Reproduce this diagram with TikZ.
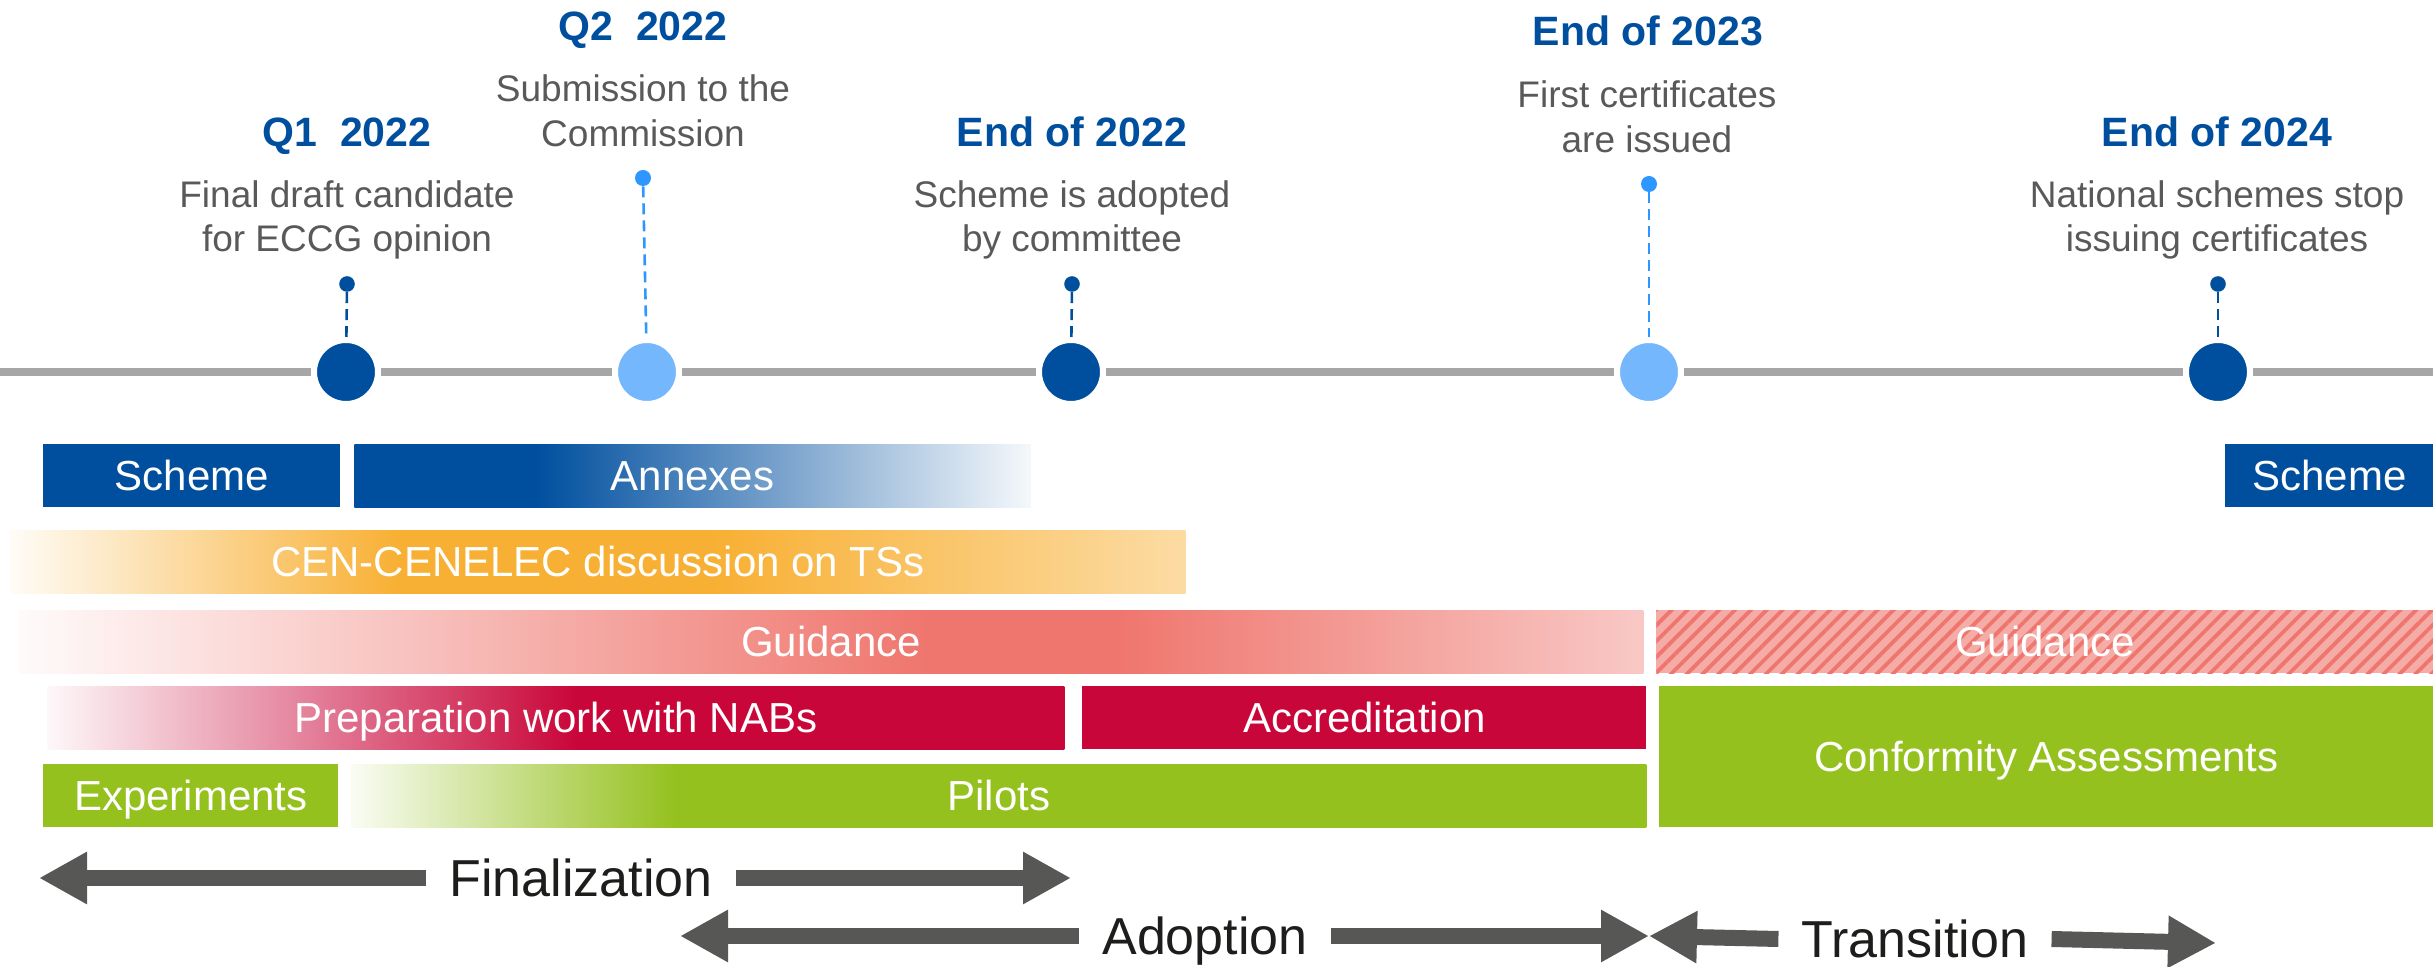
\documentclass[tikz,border=0pt]{standalone}
\usepackage{fontspec}
\setmainfont{Liberation Sans}
\usetikzlibrary{arrows.meta,patterns.meta}
\definecolor{dblue}{RGB}{0,79,159}
\definecolor{lblue}{RGB}{117,183,253}
\definecolor{lbluedot}{RGB}{45,150,255}
\definecolor{tlgray}{RGB}{166,166,166}
\definecolor{descgray}{RGB}{89,89,89}
\definecolor{orng}{RGB}{248,176,52}
\definecolor{salm}{RGB}{239,118,110}
\definecolor{crim}{RGB}{201,6,57}
\definecolor{grn}{RGB}{149,193,31}
\definecolor{arrgray}{RGB}{87,87,86}
\definecolor{arrtext}{RGB}{29,29,27}
\definecolor{hatchbase}{RGB}{245,172,167}
\colorlet{annexEnd}{dblue!4!white}
\colorlet{cenStart}{orng!4!white}
\colorlet{cenEnd}{orng!45!white}
\colorlet{guidStart}{salm!3!white}
\colorlet{guidEnd}{salm!40!white}
\colorlet{prepStart}{crim!3!white}
\colorlet{pilStart}{grn!5!white}
\pgfdeclarehorizontalshading{annexsh}{100bp}{color(0bp)=(dblue); color(25bp)=(dblue); color(38.5bp)=(dblue); color(75bp)=(annexEnd); color(100bp)=(annexEnd)}
\pgfdeclarehorizontalshading{censh}{100bp}{color(0bp)=(cenStart); color(25bp)=(cenStart); color(41.5bp)=(orng); color(55bp)=(orng); color(75bp)=(cenEnd); color(100bp)=(cenEnd)}
\pgfdeclarehorizontalshading{guidsh}{100bp}{color(0bp)=(guidStart); color(25bp)=(guidStart); color(53bp)=(salm); color(58.8bp)=(salm); color(75bp)=(guidEnd); color(100bp)=(guidEnd)}
\pgfdeclarehorizontalshading{prepsh}{100bp}{color(0bp)=(prepStart); color(25bp)=(prepStart); color(51bp)=(crim); color(75bp)=(crim); color(100bp)=(crim)}
\pgfdeclarehorizontalshading{pilsh}{100bp}{color(0bp)=(pilStart); color(25bp)=(pilStart); color(37.5bp)=(grn); color(75bp)=(grn); color(100bp)=(grn)}
\begin{document}
\begin{tikzpicture}[x=0.5pt,y=-0.5pt,
  bigdot/.style={circle,inner sep=0pt,minimum size=32pt,draw=white,line width=3pt},
  smalldot/.style={circle,inner sep=0pt,minimum size=7.8pt},
  dashline/.style={line width=1.3pt,dash pattern=on 5.5pt off 3pt},
  title/.style={anchor=base,inner sep=0pt,text=dblue,font=\bfseries\fontsize{20.5}{24}\selectfont},
  desc/.style={anchor=base,inner sep=0pt,text=descgray,font=\fontsize{18.5}{21.5}\selectfont},
  bar/.style={rectangle,anchor=north west,inner sep=0pt,minimum height=31.5pt,text=white,
    font=\fontsize{21}{25}\selectfont,text height=15pt,text depth=0pt},
  phase/.style={inner xsep=11.5pt,inner ysep=0pt,text=arrtext,font=\fontsize{26}{30}\selectfont,
    text height=18.6pt,text depth=0pt},
  bigarrow/.style={draw=arrgray,line width=8pt,-{Triangle[length=24pt,width=24.5pt]}}]
\useasboundingbox (0,0) rectangle (2433,967);
% timeline
\coordinate (tlL) at (0,372);
\coordinate (tlR) at (2433,372);
\draw[tlgray,line width=4pt] (tlL) -- (tlR);
% milestones
\node[bigdot,fill=dblue] (c1) at (346,372) {};
\node[bigdot,fill=lblue] (c2) at (647,372) {};
\node[bigdot,fill=dblue] (c3) at (1071,372) {};
\node[bigdot,fill=lblue] (c4) at (1649,372) {};
\node[bigdot,fill=dblue] (c5) at (2218,372) {};
\node[smalldot,fill=dblue] (p1) at (347,284) {};
\node[smalldot,fill=lbluedot,minimum size=8pt] (p2) at (643,178) {};
\node[smalldot,fill=dblue] (p3) at (1072,284) {};
\node[smalldot,fill=lbluedot,minimum size=8pt] (p4) at (1649,184) {};
\node[smalldot,fill=dblue] (p5) at (2218,284) {};
\draw[dashline,dblue] (p1) -- (c1);
\draw[dashline,lbluedot] (p2) -- (c2);
\draw[dashline,dblue] (p3) -- (c3);
\draw[dashline,lbluedot] (p4) -- (c4);
\draw[dashline,dblue] (p5) -- (c5);
% titles and descriptions
\node[title] (t1) at (347,147) {Q1\ \ 2022};
\node[desc] (d1a) at (347,208) {Final draft candidate};
\node[desc] (d1b) at (347,252) {for ECCG opinion};
\node[title] (t2) at (643,41) {Q2\ \ 2022};
\node[desc] (d2a) at (643,102) {Submission to the};
\node[desc] (d2b) at (643,147) {Commission};
\node[title] (t3) at (1072,147) {End of 2022};
\node[desc] (d3a) at (1072,208) {Scheme is adopted};
\node[desc] (d3b) at (1072,252) {by committee};
\node[title] (t4) at (1648,46) {End of 2023};
\node[desc] (d4a) at (1647,108) {First certificates};
\node[desc] (d4b) at (1647,153) {are issued};
\node[title] (t5) at (2217,147) {End of 2024};
\node[desc] (d5a) at (2217,208) {National schemes stop};
\node[desc] (d5b) at (2217,252) {issuing certificates};
% bars
\node[bar,fill=dblue,minimum width=148.5pt] (schemeL) at (43,444) {Scheme};
\node[bar,shading=annexsh,minimum width=338pt] (annex) at (354,444) {Annexes};
\node[bar,fill=dblue,minimum width=104pt] (schemeR) at (2225,444) {Scheme};
\node[bar,shading=censh,minimum width=587.5pt] (cen) at (10,530) {CEN-CENELEC discussion on TSs};
\node[bar,shading=guidsh,minimum width=812.5pt] (guid) at (18,610) {Guidance};
\node[bar,fill=hatchbase,minimum width=388.5pt,
  postaction={pattern={Lines[angle=45,distance=5.6pt,line width=1.9pt]},pattern color=salm}] (guidH) at (1656,610) {Guidance};
\node[bar,shading=prepsh,minimum width=508.5pt] (prep) at (47,686) {Preparation work with NABs};
\node[bar,fill=crim,minimum width=282pt] (accr) at (1082,686) {Accreditation};
\node[bar,fill=grn,minimum width=147.5pt] (exp) at (43,764) {Experiments};
\node[bar,shading=pilsh,minimum width=647.5pt] (pil) at (351,764) {Pilots};
\node[bar,fill=grn,minimum width=387pt,minimum height=70.5pt] (conf) at (1659,686) {Conformity Assessments};
% phase arrows
\node[phase] (fin) at (581,878) {Finalization};
\coordinate (finL) at (39,878);
\coordinate (finR) at (1071,878);
\draw[bigarrow] (fin.west) -- (finL);
\draw[bigarrow] (fin.east) -- (finR);
\node[phase] (ado) at (1205,936) {Adoption};
\coordinate (adoL) at (680,936);
\coordinate (adoR) at (1649,936);
\draw[bigarrow] (ado.west) -- (adoL);
\draw[bigarrow] (ado.east) -- (adoR);
\node[phase] (tra) at (1915,939) {Transition};
\coordinate (traL) at (1649,936);
\coordinate (traR) at (2216,943);
\draw[bigarrow] (tra.west) -- (traL);
\draw[bigarrow] (tra.east) -- (traR);
\end{tikzpicture}
\end{document}
